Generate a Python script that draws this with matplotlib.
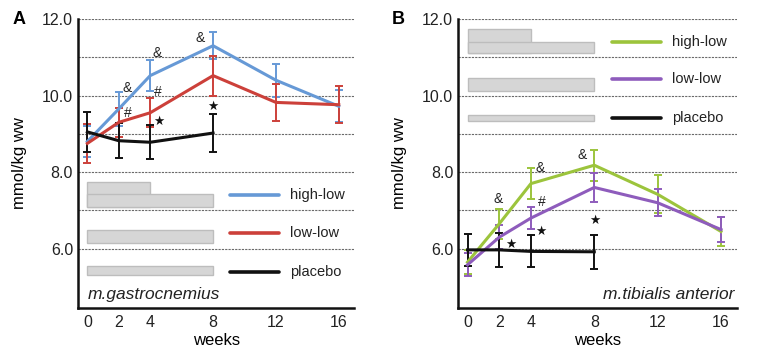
import numpy as np
import matplotlib.pyplot as plt
from matplotlib.patches import Rectangle

plt.rcParams["font.family"] = ["Liberation Sans", "DejaVu Sans"]

weeks = [0, 2, 4, 8, 12, 16]
weeks_placebo = [0, 2, 4, 8]

# panel A: m.gastrocnemius
a_high = [8.8, 9.65, 10.52, 11.3, 10.4, 9.72]
a_high_err = [0.4, 0.45, 0.4, 0.35, 0.43, 0.42]
a_low = [8.75, 9.3, 9.55, 10.52, 9.82, 9.76]
a_low_err = [0.5, 0.38, 0.38, 0.52, 0.48, 0.48]
a_plac = [9.05, 8.82, 8.78, 9.02]
a_plac_err = [0.52, 0.45, 0.45, 0.5]

# panel B: m.tibialis anterior
b_high = [5.65, 6.65, 7.7, 8.18, 7.42, 6.45]
b_high_err = [0.32, 0.4, 0.4, 0.4, 0.5, 0.37]
b_low = [5.58, 6.3, 6.8, 7.6, 7.2, 6.5]
b_low_err = [0.3, 0.32, 0.28, 0.38, 0.35, 0.33]
b_plac = [5.97, 5.97, 5.93, 5.92]
b_plac_err = [0.42, 0.45, 0.42, 0.45]

labels = ["high-low", "low-low", "placebo"]
colors_a = ["#6699d6", "#cc403a", "#111111"]
colors_b = ["#9cc43c", "#8e5cbc", "#111111"]

# annotations (text, x, y)
a_marks = [("&", 2.5, 10.2), ("&", 4.45, 11.12), ("&", 7.15, 11.5),
           ("#", 2.6, 9.55), ("#", 4.5, 10.1),
           ("★", 4.55, 9.33), ("★", 8.0, 9.72)]
b_marks = [("&", 1.95, 7.3), ("&", 4.6, 8.1), ("&", 7.25, 8.45),
           ("#", 4.7, 7.22),
           ("★", 2.75, 6.12), ("★", 4.65, 6.45), ("★", 8.05, 6.75)]

# dosing boxes: (x0, x1, y0, y1) and legend line heights
a_boxes = [(0, 4, 7.1, 7.73), (0, 8, 7.1, 7.43), (0, 8, 6.15, 6.5), (0, 8, 5.32, 5.54)]
a_leg_y = [7.41, 6.41, 5.38]
b_boxes = [(0, 4, 11.1, 11.73), (0, 8, 11.1, 11.41), (0, 8, 10.13, 10.47), (0, 8, 9.33, 9.5)]
b_leg_y = [11.41, 10.43, 9.41]


def draw_panel(ax, highs, lows, placs, colors, marks, boxes, leg_y, muscle, right_note):
    ax.set_xlim(-0.6, 17)
    ax.set_ylim(4.45, 12.0)
    for v in range(6, 13):
        ax.axhline(v, color="#6a6a6a", lw=0.8, ls=(0, (2, 1)), zorder=0)

    for (x0, x1, y0, y1) in boxes:
        ax.add_patch(Rectangle((x0, y0), x1 - x0, y1 - y0, facecolor="#d6d6d6",
                               edgecolor="#bdbdbd", lw=1, zorder=1))

    series = [(weeks, highs), (weeks, lows), (weeks_placebo, placs)]
    for (xs, (m, e)), c in zip(series, colors):
        ax.errorbar(xs, m, yerr=e, color=c, lw=2.2, elinewidth=1.4,
                    capsize=3, capthick=1.4, zorder=3)

    for (txt, x, y) in marks:
        if txt == "★":
            ax.text(x, y, txt, ha="center", va="center", fontsize=9,
                    family="DejaVu Sans", color="#111111", zorder=4)
        else:
            ax.text(x, y, txt, ha="center", va="center", fontsize=10,
                    color="#222222", zorder=4)

    for yl, c, lab in zip(leg_y, colors, labels):
        ax.plot([9.1, 12.2], [yl, yl], color=c, lw=2.6, solid_capstyle="round")
        ax.text(12.9, yl, lab, ha="left", va="center", fontsize=10.5, color="#222222")

    if right_note:
        ax.text(16.85, 4.8, muscle, ha="right", va="center", fontsize=12.5,
                style="italic", color="#222222")
    else:
        ax.text(0.0, 4.8, muscle, ha="left", va="center", fontsize=12.5,
                style="italic", color="#222222")

    ax.set_xticks(weeks)
    ax.set_yticks([6, 8, 10, 12])
    ax.set_yticklabels(["6.0", "8.0", "10.0", "12.0"])
    ax.tick_params(length=0, labelsize=11.5, labelcolor="#222222")
    ax.tick_params(axis="y", pad=3.5)
    ax.tick_params(axis="x", pad=5)
    for s in ["top", "right"]:
        ax.spines[s].set_visible(False)
    for s in ["left", "bottom"]:
        ax.spines[s].set_linewidth(1.8)
        ax.spines[s].set_color("#111111")
    ax.set_xlabel("weeks", fontsize=12, labelpad=2)
    ax.set_ylabel("mmol/kg ww", fontsize=12, labelpad=10.5)


fig = plt.figure(figsize=(7.64, 3.57), dpi=100)
ax1 = fig.add_axes([0.102, 0.137, 0.362, 0.81])
ax2 = fig.add_axes([0.5995, 0.137, 0.365, 0.81])

draw_panel(ax1, (a_high, a_high_err), (a_low, a_low_err), (a_plac, a_plac_err),
           colors_a, a_marks, a_boxes, a_leg_y, "m.gastrocnemius", False)
draw_panel(ax2, (b_high, b_high_err), (b_low, b_low_err), (b_plac, b_plac_err),
           colors_b, b_marks, b_boxes, b_leg_y, "m.tibialis anterior", True)

fig.text(19 / 764, 1 - 20 / 357, "A", fontsize=13, fontweight="bold", va="center", ha="center")
fig.text(398 / 764, 1 - 20 / 357, "B", fontsize=13, fontweight="bold", va="center", ha="center")

fig.savefig("out.png", dpi=100)
